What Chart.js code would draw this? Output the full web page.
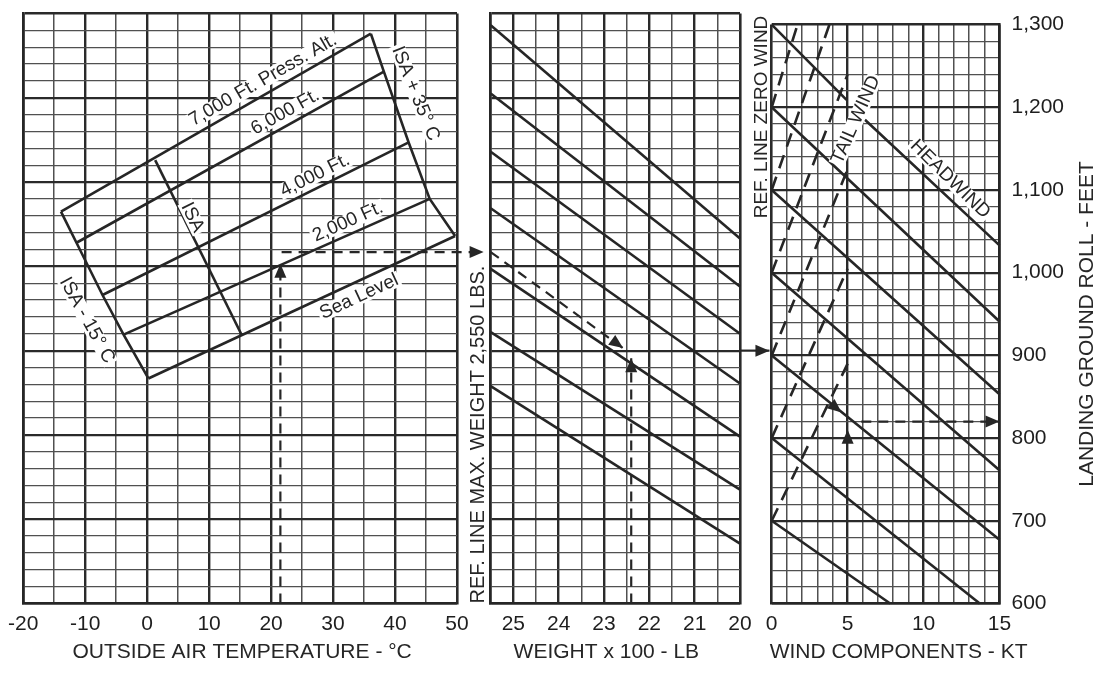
<!DOCTYPE html>
<html lang="en">
<head>
<meta charset="UTF-8">
<title>Landing Ground Roll</title>
<script src="https://cdn.jsdelivr.net/npm/chart.js"></script>
<style>
  body { margin: 0; background: #fff; }
  #wrap { position: relative; width: 1104px; height: 673px; overflow: hidden; }
  canvas { position: absolute; top: 0; }
</style>
</head>
<body>
<div id="wrap">
  <canvas id="oatChart" width="490" height="673" style="left:0"></canvas>
  <canvas id="weightChart" width="315" height="673" style="left:460px"></canvas>
  <canvas id="windChart" width="359" height="673" style="left:745px"></canvas>
</div>
<script>
// ---- values ----
const tempTicks = [-20, -10, 0, 10, 20, 30, 40, 50];
const weightTicks = [25, 24, 23, 22, 21, 20];
const windTicks = [0, 5, 10, 15];
const rollTicks = [600, 700, 800, 900, 1000, 1100, 1200, 1300];

// pressure altitude lines, ends on the ISA -15 C and ISA +35 C boundaries
const altitudeNames = ['Sea Level', '2,000 Ft.', '4,000 Ft.', '6,000 Ft.', '7,000 Ft. Press. Alt.'];
const coldTemp = [0.2, -3.8, -7.2, -11.4, -13.9];
const coldRoll = [867, 919, 966, 1028, 1065];
const hotTemp = [49.7, 45.6, 42.2, 38.2, 36.1];
const hotRoll = [1036, 1080, 1147, 1231, 1276];
const isaTemp = [1.3, 15.3];
const isaRoll = [1126, 918];

// worked example, temperature panel
const exampleOat = [21.5, 21.5];
const exampleOatRoll = [600, 1003];
const exampleCarryTemp = [21.7, 54.3];
const exampleCarryRoll = [1017, 1017];

// weight guide lines: roll at 2,550 lb and at 2,000 lb
const guideAtMax = [1286, 1205, 1136, 1069, 997, 922, 858];
const guideAtMin = [1033, 976, 920, 861, 798, 735, 671];
const examplePathW = [25.5, 22.58];
const examplePathRoll = [1017, 903];
const exampleWeight = [22.4, 22.4];
const exampleWeightRoll = [600, 891];
const exampleOutW = [20, 19.35];
const exampleOutRoll = [900, 900];

// wind panel: headwind (solid) and tailwind (dashed) lines
const headStart = [1300, 1200, 1100, 1000, 900, 800, 700];
const headEndKt = [15, 15, 15, 15, 15, 13.7, 7.8];
const headEndRoll = [1033, 941, 853, 761, 677, 600, 600];
const headGapKt = [4.93, 6.14];   // break in the top line for the label
const headGapRoll = [1209, 1185];
const tailStart = [700, 800, 900, 1000, 1100, 1200];
const tailEndKt = [5, 5, 5, 5, 3.8, 1.7];
const tailEndRoll = [890, 1005, 1125, 1240, 1300, 1300];
const exampleWindArrowKt = [3.8, 4.6];
const exampleWindArrowRoll = [843, 831];
const exampleUpKt = [5, 5];
const exampleUpRoll = [780, 810];
const exampleResultKt = [5.9, 15];
const exampleResultRoll = [820, 820];

// ---- styling ----
const FONT = "'Liberation Sans', Arial, Helvetica, sans-serif";
const INK = '#262626';
Chart.defaults.font.family = FONT;
Chart.defaults.color = '#1e1e1e';

const lineStyle = { borderColor: INK, borderWidth: 2.6, pointRadius: 0, tension: 0, fill: false, clip: false };
const dashed = { borderDash: [10, 7], borderWidth: 2.2 };
const tailDashed = { borderDash: [14, 9], borderWidth: 2.6 };

function path(xs, ys, extra) {
  return Object.assign({ data: xs.map((v, i) => ({ x: v, y: ys[i] })) }, lineStyle, extra || {});
}

function gridStyle(min, max, major, minorW, majorW) {
  const isMajor = v => Math.abs(v / major - Math.round(v / major)) < 1e-6;
  return {
    drawTicks: false,
    color: c => isMajor(c.tick.value) ? '#2a2a2a' : '#505050',
    lineWidth: c => {
      const v = c.tick.value;
      if (v === min || v === max) return 2.6;
      return isMajor(v) ? majorW : minorW;
    }
  };
}

function xAxis(min, max, step, major, labels, reverse) {
  return {
    type: 'linear', min, max, reverse: !!reverse,
    ticks: {
      stepSize: step, autoSkip: false, maxRotation: 0, padding: 8,
      font: { size: 21 },
      callback: v => labels.includes(v) ? String(v) : ''
    },
    grid: gridStyle(min, max, major, 1.5, 2.4),
    border: { width: 2.6, color: INK },
    afterFit: s => { s.height = 69.5; }
  };
}

function rollAxis(position, showLabels) {
  return {
    type: 'linear', position, min: 600, max: 1300,
    ticks: {
      display: showLabels, stepSize: 20, autoSkip: false, padding: 12,
      font: { size: 21 },
      callback: v => rollTicks.includes(v) ? v.toLocaleString('en-US') : ''
    },
    grid: gridStyle(600, 1300, 100, 1.2, 2.2),
    border: { width: 2.6, color: INK },
    afterFit: s => { s.width = showLabels ? 104.5 : 0; }
  };
}

function arrowHead(ctx, x0, y0, x1, y1) {
  const a = Math.atan2(y1 - y0, x1 - x0);
  ctx.save();
  ctx.translate(x1, y1);
  ctx.rotate(a);
  ctx.beginPath();
  ctx.moveTo(0, 0);
  ctx.lineTo(-14, -6);
  ctx.lineTo(-14, 6);
  ctx.closePath();
  ctx.fillStyle = INK;
  ctx.fill();
  ctx.restore();
}

function drawText(ctx, str, x, y, ang, size, knock, align) {
  ctx.save();
  ctx.translate(x, y);
  ctx.rotate(ang);
  ctx.font = size + 'px ' + FONT;
  ctx.textAlign = align || 'center';
  ctx.textBaseline = 'middle';
  if (knock) {
    const w = ctx.measureText(str).width;
    ctx.fillStyle = '#fff';
    ctx.fillRect(-w / 2 - 2, -size * 0.42, w + 4, size * 0.84);
  }
  ctx.fillStyle = INK;
  ctx.fillText(str, 0, 0);
  ctx.restore();
}

// arrowheads, in-chart labels and the free texts round the panels
const notes = {
  id: 'notes',
  afterDraw(chart, args, opts) {
    const { ctx, chartArea: area } = chart;
    const xs = chart.scales.x, ys = chart.scales.y;
    chart.data.datasets.forEach((ds, i) => {
      if (!ds.arrow) return;
      const pts = chart.getDatasetMeta(i).data;
      const a = pts[pts.length - 2], b = pts[pts.length - 1];
      arrowHead(ctx, a.x, a.y, b.x, b.y);
    });
    (opts.labels || []).forEach(l => {
      let ang = (l.angle || 0) * Math.PI / 180;
      if (l.along) {
        const [p, q] = l.along;
        ang = Math.atan2(ys.getPixelForValue(q[1]) - ys.getPixelForValue(p[1]),
                         xs.getPixelForValue(q[0]) - xs.getPixelForValue(p[0]));
      }
      drawText(ctx, l.text, xs.getPixelForValue(l.x), ys.getPixelForValue(l.y), ang, l.size || 19, true);
    });
    (opts.free || []).forEach(f => {
      drawText(ctx, f.text, f.x(area), f.y(area), (f.angle || 0) * Math.PI / 180, f.size || 21, false, f.align);
    });
  }
};

function makeChart(id, datasets, xOpts, yOpts, padding, notesOpts) {
  return new Chart(document.getElementById(id), {
    type: 'line',
    data: { datasets },
    options: {
      responsive: false,
      animation: false,
      devicePixelRatio: 1,
      events: [],
      layout: { padding },
      scales: { x: xOpts, y: yOpts },
      plugins: { legend: { display: false }, tooltip: { enabled: false }, notes: notesOpts }
    },
    plugins: [notes]
  });
}

// ---- left panel: outside air temperature ----
const oatSets = altitudeNames.map((n, i) =>
  path([coldTemp[i], hotTemp[i]], [coldRoll[i], hotRoll[i]], { label: n }));
oatSets.push(path(coldTemp, coldRoll, { label: 'ISA - 15° C' }));
oatSets.push(path(hotTemp, hotRoll, { label: 'ISA + 35° C' }));
oatSets.push(path(isaTemp, isaRoll, { label: 'ISA' }));
oatSets.push(path(exampleOat, exampleOatRoll, Object.assign({ arrow: true }, dashed)));
oatSets.push(path(exampleCarryTemp, exampleCarryRoll, Object.assign({ arrow: true }, dashed)));

const along = i => [[coldTemp[i], coldRoll[i]], [hotTemp[i], hotRoll[i]]];
makeChart('oatChart', oatSets,
  xAxis(-20, 50, 5, 10, tempTicks),
  rollAxis('left', false),
  { left: 23, top: 13.5, right: 33, bottom: 0 },
  {
    labels: [
      { text: '7,000 Ft. Press. Alt.', x: 18.7, y: 1221, along: along(4) },
      { text: '6,000 Ft.', x: 22.3, y: 1183, along: along(3) },
      { text: '4,000 Ft.', x: 27.1, y: 1108, along: along(2) },
      { text: '2,000 Ft.', x: 32.4, y: 1053, along: along(1) },
      { text: 'Sea Level', x: 34.2, y: 964, along: along(0) },
      { text: 'ISA', x: 7.3, y: 1058, along: [[isaTemp[0], isaRoll[0]], [isaTemp[1], isaRoll[1]]] },
      { text: 'ISA + 35° C', x: 43.3, y: 1205, angle: 68 },
      { text: 'ISA - 15° C', x: -9.7, y: 936, angle: 61 }
    ],
    free: [
      { text: 'OUTSIDE AIR TEMPERATURE - °C', x: a => (a.left + a.right) / 2 + 2, y: () => 652 }
    ]
  });

// ---- middle panel: weight ----
const weightSets = guideAtMax.map((r, i) => path([25.5, 20], [r, guideAtMin[i]]));
weightSets.push(path(examplePathW, examplePathRoll, Object.assign({ arrow: true }, dashed)));
weightSets.push(path(exampleWeight, exampleWeightRoll, Object.assign({ arrow: true }, dashed)));
weightSets.push(path(exampleOutW, exampleOutRoll, { arrow: true, borderWidth: 2.2 }));

makeChart('weightChart', weightSets,
  xAxis(20, 25.5, 0.5, 1, weightTicks, true),
  rollAxis('left', false),
  { left: 30.7, top: 13.5, right: 35, bottom: 0 },
  {
    free: [
      { text: 'WEIGHT x 100 - LB', x: a => (a.left + a.right) / 2 - 9, y: () => 652 },
      { text: 'REF. LINE MAX. WEIGHT 2,550 LBS.', x: a => a.left - 12.7, y: a => a.bottom, angle: -90, size: 20, align: 'left' }
    ]
  });

// ---- right panel: wind components ----
const windSets = headStart.map((r, i) => i === 0
  ? path([0, headGapKt[0], 5.5, headGapKt[1], headEndKt[0]], [r, headGapRoll[0], null, headGapRoll[1], headEndRoll[0]])
  : path([0, headEndKt[i]], [r, headEndRoll[i]]));
tailStart.forEach((r, i) => windSets.push(path([0, tailEndKt[i]], [r, tailEndRoll[i]], tailDashed)));
windSets.push(path(exampleWindArrowKt, exampleWindArrowRoll, { showLine: false, arrow: true }));
windSets.push(path(exampleUpKt, exampleUpRoll, { showLine: false, arrow: true }));
windSets.push(path(exampleResultKt, exampleResultRoll, Object.assign({ arrow: true }, dashed)));

makeChart('windChart', windSets,
  xAxis(0, 15, 1, 5, windTicks),
  rollAxis('right', true),
  { left: 26.7, top: 13.5, right: 0, bottom: 0 },
  {
    labels: [
      { text: 'TAIL WIND', x: 5.55, y: 1185, angle: -66 },
      { text: 'HEADWIND', x: 11.75, y: 1113, angle: 44.4 }
    ],
    free: [
      { text: 'WIND COMPONENTS - KT', x: a => (a.left + a.right) / 2 + 13, y: () => 652 },
      { text: 'REF. LINE ZERO WIND', x: a => a.left - 9.7, y: () => 117, angle: -90, size: 19 },
      { text: 'LANDING GROUND ROLL - FEET', x: a => a.right + 87.5, y: () => 324, angle: -90, size: 21 }
    ]
  });
</script>
</body>
</html>
